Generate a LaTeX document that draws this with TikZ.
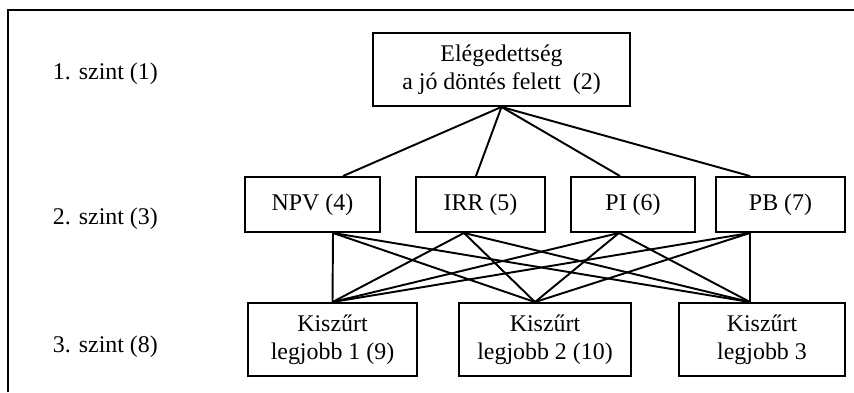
\documentclass[tikz,border=0pt]{standalone}
\usepackage{fontspec}
\setmainfont{Liberation Serif}
\usetikzlibrary{calc}

\begin{document}
\begin{tikzpicture}[x=0.02cm, y=-0.02cm, line width=1.1pt,
  txt/.style={font=\fontsize{13.6}{16}\selectfont},
  box/.style={txt, draw, align=center, inner sep=0pt},
  lvl/.style={txt, anchor=west, inner sep=0pt}]
  \useasboundingbox (0,0) rectangle (854,392);
  \draw (8,392) -- (8,10) -- (854,10);
  \node[lvl] (lvlone) at (52,74) {1. szint (1)};
  \node[lvl] (lvltwo) at (52,219) {2. szint (3)};
  \node[lvl] (lvlthree) at (52,347) {3. szint (8)};
  \node[box, minimum width=5.14cm, minimum height=1.46cm] (goal) at (501.5,69.5)
    {Elégedettség\\a jó döntés felett~~(2)};
  \node[box, minimum width=2.7cm, minimum height=1.1cm] (npv) at (312.5,204.5) {NPV (4)};
  \node[box, minimum width=2.58cm, minimum height=1.1cm] (irr) at (480.5,204.5) {IRR (5)};
  \node[box, minimum width=2.48cm, minimum height=1.1cm] (pi) at (633,204.5) {PI (6)};
  \node[box, minimum width=2.58cm, minimum height=1.1cm] (pb) at (780.5,204.5) {PB (7)};
  \node[box, minimum width=3.38cm, minimum height=1.46cm] (kone) at (332.5,339.5)
    {Kiszűrt\\legjobb 1 (9)};
  \node[box, minimum width=3.44cm, minimum height=1.46cm] (ktwo) at (545,339.5)
    {Kiszűrt\\legjobb 2 (10)};
  \node[box, minimum width=3.32cm, minimum height=1.46cm] (kthree) at (762,339.5)
    {Kiszűrt\\legjobb 3};
  % upper ends of the level 2 boxes
  \coordinate (npv-up) at ($(npv.north)+(30.5,0)$);
  \coordinate (irr-up) at ($(irr.north)+(-4.5,0)$);
  \coordinate (pi-up) at ($(pi.north)+(-13,0)$);
  \coordinate (pb-up) at ($(pb.north)+(-30.5,0)$);
  % lower ends of the level 2 boxes
  \coordinate (npv-dn) at ($(npv.south)+(20.5,0)$);
  \coordinate (irr-dn) at ($(irr.south)+(-16.5,0)$);
  \coordinate (pi-dn) at ($(pi.south)+(-14,0)$);
  \coordinate (pb-dn) at ($(pb.south)+(-30.5,0)$);
  % upper ends of the level 3 boxes
  \coordinate (kone-up) at (kone.north);
  \coordinate (ktwo-up) at ($(ktwo.north)+(-10,0)$);
  \coordinate (kthree-up) at ($(kthree.north)+(-12,0)$);
  \foreach \c in {npv,irr,pi,pb}
    \draw (goal.south) -- (\c-up);
  \foreach \c in {npv,irr,pi,pb}
    \foreach \k in {kone,ktwo,kthree}
      \draw (\c-dn) -- (\k-up);
\end{tikzpicture}
\end{document}
